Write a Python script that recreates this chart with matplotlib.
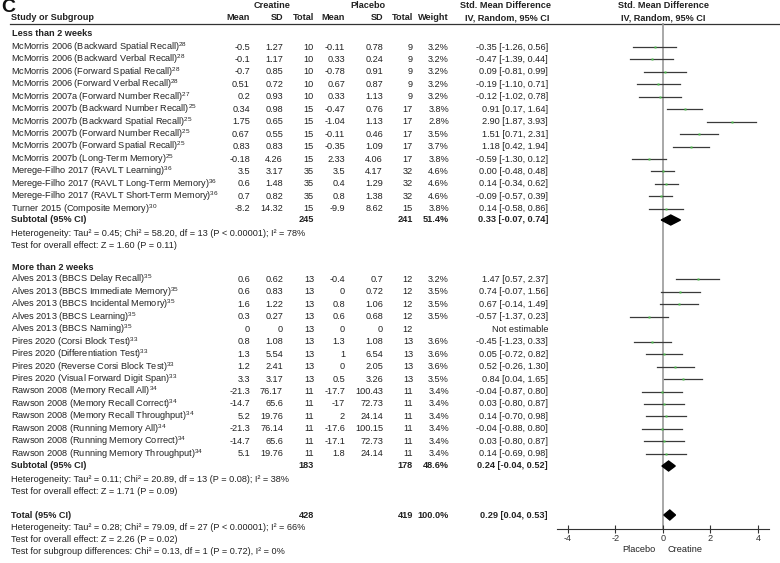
import numpy as np
import matplotlib.pyplot as plt

plt.rcParams['font.family'] = ['Liberation Sans', 'DejaVu Sans']
plt.rcParams['mathtext.default'] = 'regular'
plt.rcParams['axes.unicode_minus'] = False

# ---- data ----
# subgroup 1: less than 2 weeks
names_a = ["McMorris 2006 (Backward Spatial Recall)", "McMorris 2006 (Backward Verbal Recall)",
           "McMorris 2006 (Forward Spatial Recall)", "McMorris 2006 (Forward Verbal Recall)",
           "McMorris 2007a (Forward Number Recall)", "McMorris 2007b (Backward Number Recall)",
           "McMorris 2007b (Backward Spatial Recall)", "McMorris 2007b (Forward Number Recall)",
           "McMorris 2007b (Forward Spatial Recall)", "McMorris 2007b (Long-Term Memory)",
           "Merege-Filho 2017 (RAVLT Learning)", "Merege-Filho 2017 (RAVLT Long-Term Memory)",
           "Merege-Filho 2017 (RAVLT Short-Term Memory)", "Turner 2015 (Composite Memory)"]
refs_a = [28, 28, 28, 28, 27, 25, 25, 25, 25, 25, 36, 36, 36, 30]
cr_mean_a = [-0.5, -0.1, -0.7, 0.51, 0.2, 0.34, 1.75, 0.67, 0.83, -0.18, 3.5, 0.6, 0.7, -8.2]
cr_sd_a = [1.27, 1.17, 0.85, 0.72, 0.93, 0.98, 0.65, 0.55, 0.83, 4.26, 3.17, 1.48, 0.82, 14.32]
cr_n_a = [10, 10, 10, 10, 10, 15, 15, 15, 15, 15, 35, 35, 35, 15]
pl_mean_a = [-0.11, 0.33, -0.78, 0.67, 0.33, -0.47, -1.04, -0.11, -0.35, 2.33, 3.5, 0.4, 0.8, -9.9]
pl_sd_a = [0.78, 0.24, 0.91, 0.87, 1.13, 0.76, 1.13, 0.46, 1.09, 4.06, 4.17, 1.29, 1.38, 8.62]
pl_n_a = [9, 9, 9, 9, 9, 17, 17, 17, 17, 17, 32, 32, 32, 15]
weight_a = [3.2, 3.2, 3.2, 3.2, 3.2, 3.8, 2.8, 3.5, 3.7, 3.8, 4.6, 4.6, 4.6, 3.8]
smd_a = [-0.35, -0.47, 0.09, -0.19, -0.12, 0.91, 2.90, 1.51, 1.18, -0.59, 0.00, 0.14, -0.09, 0.14]
lo_a = [-1.26, -1.39, -0.81, -1.10, -1.02, 0.17, 1.87, 0.71, 0.42, -1.30, -0.48, -0.34, -0.57, -0.58]
hi_a = [0.56, 0.44, 0.99, 0.71, 0.78, 1.64, 3.93, 2.31, 1.94, 0.12, 0.48, 0.62, 0.39, 0.86]

# subgroup 2: more than 2 weeks
names_b = ["Alves 2013 (BBCS Delay Recall)", "Alves 2013 (BBCS Immediate Memory)",
           "Alves 2013 (BBCS Incidental Memory)", "Alves 2013 (BBCS Learning)",
           "Alves 2013 (BBCS Naming)", "Pires 2020 (Corsi Block Test)",
           "Pires 2020 (Differentiation Test)", "Pires 2020 (Reverse Corsi Block Test)",
           "Pires 2020 (Visual Forward Digit Span)", "Rawson 2008 (Memory Recall All)",
           "Rawson 2008 (Memory Recall Correct)", "Rawson 2008 (Memory Recall Throughput)",
           "Rawson 2008 (Running Memory All)", "Rawson 2008 (Running Memory Correct)",
           "Rawson 2008 (Running Memory Throughput)"]
refs_b = [35, 35, 35, 35, 35, 33, 33, 33, 33, 34, 34, 34, 34, 34, 34]
cr_mean_b = [0.6, 0.6, 1.6, 0.3, 0, 0.8, 1.3, 1.2, 3.3, -21.3, -14.7, 5.2, -21.3, -14.7, 5.1]
cr_sd_b = [0.62, 0.83, 1.22, 0.27, 0, 1.08, 5.54, 2.41, 3.17, 76.17, 65.6, 19.76, 76.14, 65.6, 19.76]
cr_n_b = [13, 13, 13, 13, 13, 13, 13, 13, 13, 11, 11, 11, 11, 11, 11]
pl_mean_b = [-0.4, 0, 0.8, 0.6, 0, 1.3, 1, 0, 0.5, -17.7, -17, 2, -17.6, -17.1, 1.8]
pl_sd_b = [0.7, 0.72, 1.06, 0.68, 0, 1.08, 6.54, 2.05, 3.26, 100.43, 72.73, 24.14, 100.15, 72.73, 24.14]
pl_n_b = [12, 12, 12, 12, 12, 13, 13, 13, 13, 11, 11, 11, 11, 11, 11]
weight_b = [3.2, 3.5, 3.5, 3.5, np.nan, 3.6, 3.6, 3.6, 3.5, 3.4, 3.4, 3.4, 3.4, 3.4, 3.4]
smd_b = [1.47, 0.74, 0.67, -0.57, np.nan, -0.45, 0.05, 0.52, 0.84, -0.04, 0.03, 0.14, -0.04, 0.03, 0.14]
lo_b = [0.57, -0.07, -0.14, -1.37, np.nan, -1.23, -0.72, -0.26, 0.04, -0.87, -0.80, -0.70, -0.88, -0.80, -0.69]
hi_b = [2.37, 1.56, 1.49, 0.23, np.nan, 0.33, 0.82, 1.30, 1.65, 0.80, 0.87, 0.98, 0.80, 0.87, 0.98]

# pooled estimates: [subgroup 1, subgroup 2, total]
pool_cr_n = [245, 183, 428]
pool_pl_n = [241, 178, 419]
pool_weight = [51.4, 48.6, 100.0]
pool_smd = [0.33, 0.24, 0.29]
pool_lo = [-0.07, -0.04, 0.04]
pool_hi = [0.74, 0.52, 0.53]

group_labels = ["Less than 2 weeks", "More than 2 weeks"]
het_text = ["Heterogeneity: Tau² = 0.45; Chi² = 58.20, df = 13 (P < 0.00001); I² = 78%",
            "Heterogeneity: Tau² = 0.11; Chi² = 20.89, df = 13 (P = 0.08); I² = 38%",
            "Heterogeneity: Tau² = 0.28; Chi² = 79.09, df = 27 (P < 0.00001); I² = 66%"]
effect_text = ["Test for overall effect: Z = 1.60 (P = 0.11)",
               "Test for overall effect: Z = 1.71 (P = 0.09)",
               "Test for overall effect: Z = 2.26 (P = 0.02)"]
subgroup_text = "Test for subgroup differences: Chi² = 0.13, df = 1 (P = 0.72), I² = 0%"
xticks = [-4, -2, 0, 2, 4]

# ---- layout (pixels) ----
W, H = 780, 563
TXT = '#222222'
FS = 6.6
STEP = 12.45
col = dict(cm=250, csd=283, cn=314, pm=345, psd=383, pn=413, w=449, ci=548)

fig = plt.figure(figsize=(W / 100, H / 100), dpi=100)
ax = fig.add_axes([0, 0, 1, 1])
ax.set_xlim(0, W)
ax.set_ylim(H, 0)
ax.axis('off')


def put(x, y, s, ha='left', bold=False, size=FS):
    ax.text(x, y, s, ha=ha, va='center', fontsize=size, color=TXT,
            fontweight='bold' if bold else 'normal')


# forest panel
fx0, fx1, fy0, fy1 = 557, 769, 23, 529
fax = fig.add_axes([fx0 / W, 1 - fy1 / H, (fx1 - fx0) / W, (fy1 - fy0) / H])
fax.set_xlim(-4.45, 4.46)
fax.set_ylim(fy1, fy0)
fax.patch.set_alpha(0)
for s in ['left', 'right', 'top']:
    fax.spines[s].set_visible(False)
fax.spines['bottom'].set_color('#333333')
fax.spines['bottom'].set_linewidth(0.8)
fax.set_yticks([])
fax.set_xticks(xticks)
fax.set_xticklabels([str(t) for t in xticks])
fax.tick_params(axis='x', direction='inout', length=6, width=0.8, pad=0.5,
                labelsize=FS, colors='#333333')
fax.axvline(0, color='#9a9a9a', lw=1.2, zorder=1)

# headers
ax.text(1, 8, "C", ha='left', va='center', fontsize=14, fontweight='bold', color='#111111')
put(272, 6, "Creatine", ha='center', bold=True)
put(368, 6, "Placebo", ha='center', bold=True)
put(506, 6, "Std. Mean Difference", ha='center', bold=True)
put(663, 6, "Std. Mean Difference", ha='center', bold=True)
put(11, 18, "Study or Subgroup", bold=True)
for k, lab in zip(['cm', 'csd', 'cn', 'pm', 'psd', 'pn', 'w'],
                  ["Mean", "SD", "Total", "Mean", "SD", "Total", "Weight"]):
    put(col[k], 18, lab, ha='right', bold=True)
put(507, 18, "IV, Random, 95% CI", ha='center', bold=True)
put(663, 18, "IV, Random, 95% CI", ha='center', bold=True)
ax.plot([10, W], [24, 24], color='#333333', lw=0.9)


def study_rows(y0, names, refs, cm, csd, cn, pm, psd, pn, w, smd, lo, hi):
    ys = [y0 + STEP * i for i in range(len(names))]
    for i, y in enumerate(ys):
        put(11, y, names[i] + "$^{%d}$" % refs[i])
        put(col['cm'], y, "%g" % cm[i], ha='right')
        put(col['csd'], y, "%g" % csd[i], ha='right')
        put(col['cn'], y, "%d" % cn[i], ha='right')
        put(col['pm'], y, "%g" % pm[i], ha='right')
        put(col['psd'], y, "%g" % psd[i], ha='right')
        put(col['pn'], y, "%d" % pn[i], ha='right')
        if np.isnan(smd[i]):
            put(col['ci'], y, "Not estimable", ha='right')
            continue
        put(col['w'], y, "%.1f%%" % w[i], ha='right')
        put(col['ci'], y, "%.2f [%.2f, %.2f]" % (smd[i], lo[i], hi[i]), ha='right')
        fax.plot([lo[i], hi[i]], [y, y], color='#3a3a3a', lw=0.9, zorder=2)
        fax.plot(smd[i], y, 's', color='#4cbb4c', ms=1.8, mec='none', zorder=3)
    return ys


def pooled_row(y, k, label):
    put(11, y, label, bold=True)
    put(col['cn'], y, "%d" % pool_cr_n[k], ha='right', bold=True)
    put(col['pn'], y, "%d" % pool_pl_n[k], ha='right', bold=True)
    put(col['w'], y, "%.1f%%" % pool_weight[k], ha='right', bold=True)
    put(col['ci'], y, "%.2f [%.2f, %.2f]" % (pool_smd[k], pool_lo[k], pool_hi[k]),
        ha='right', bold=True)
    fax.fill([pool_lo[k], pool_smd[k], pool_hi[k], pool_smd[k]],
             [y, y - 5, y, y + 5], color='black', zorder=4)


# subgroup 1
put(12, 33, group_labels[0], bold=True)
study_rows(47, names_a, refs_a, cr_mean_a, cr_sd_a, cr_n_a, pl_mean_a, pl_sd_a, pl_n_a,
           weight_a, smd_a, lo_a, hi_a)
pooled_row(220, 0, "Subtotal (95% CI)")
put(11, 234, het_text[0])
put(11, 246, effect_text[0])

# subgroup 2
put(12, 267, group_labels[1], bold=True)
study_rows(279.5, names_b, refs_b, cr_mean_b, cr_sd_b, cr_n_b, pl_mean_b, pl_sd_b, pl_n_b,
           weight_b, smd_b, lo_b, hi_b)
pooled_row(466, 1, "Subtotal (95% CI)")
put(11, 480, het_text[1])
put(11, 492, effect_text[1])

# overall
pooled_row(515, 2, "Total (95% CI)")
put(11, 528, het_text[2])
put(11, 540, effect_text[2])
put(11, 552, subgroup_text)

put(639, 550, "Placebo", ha='center')
put(685, 550, "Creatine", ha='center')

fig.savefig("out.png", dpi=100)
